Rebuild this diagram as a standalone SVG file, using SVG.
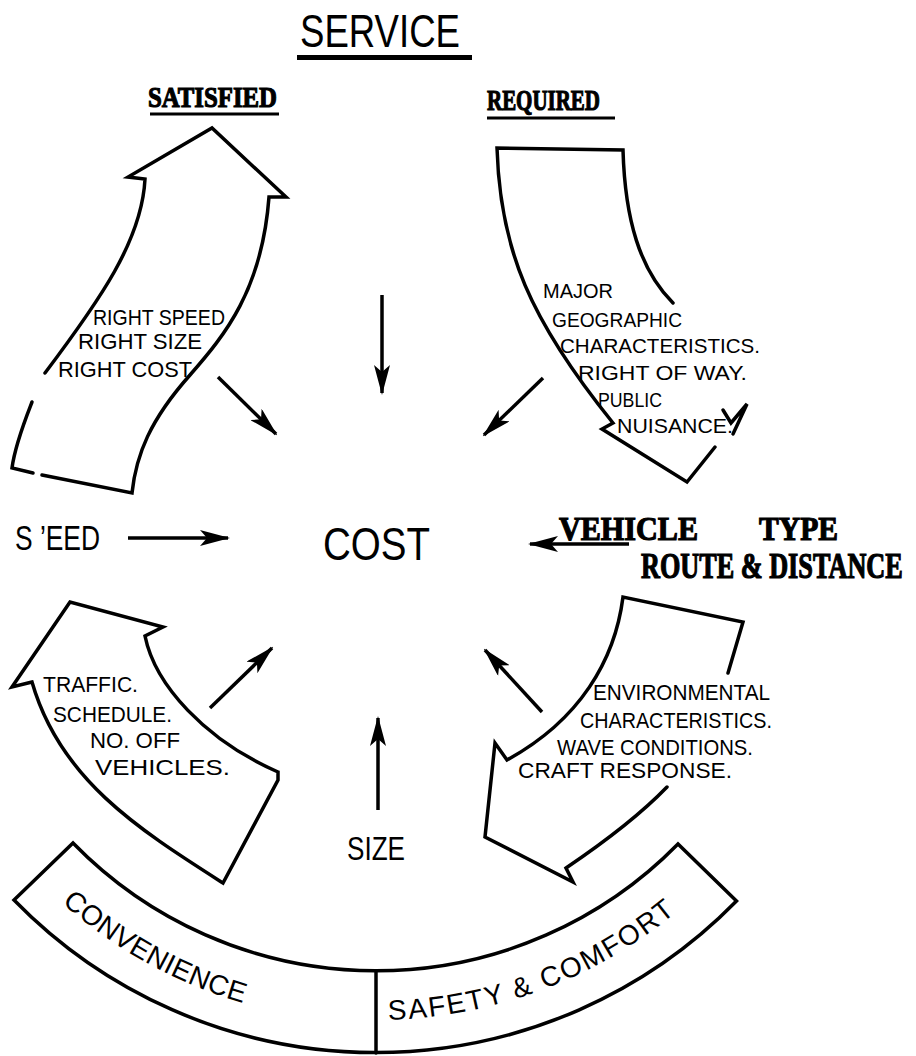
<svg xmlns="http://www.w3.org/2000/svg" width="916" height="1056" viewBox="0 0 916 1056">
<style>
  .shape{fill:none;stroke:#000;stroke-width:3.5;stroke-linejoin:miter;stroke-linecap:round}
  .conn{fill:none;stroke:#000;stroke-width:3.5;stroke-linecap:butt}
  .sans{font-family:"Liberation Sans",Arial,sans-serif;fill:#000}
  .big{font-size:47px}
  .lbl{font-size:22px}
  .sm{font-size:21px}
  .bold{font-family:"Liberation Serif","Times New Roman",serif;font-weight:bold;fill:#000;stroke:#000;stroke-width:1.2}
  .band{font-family:"Liberation Sans",Arial,sans-serif;font-size:28px;fill:#000}
</style>
<defs>
  <marker id="ah" viewBox="0 0 30 16" refX="28" refY="8" markerWidth="30" markerHeight="16" markerUnits="userSpaceOnUse" orient="auto">
    <path d="M0,0 L30,8 L0,16 L7,8 Z" fill="#000"/>
  </marker>
  <path id="pConv" d="M61.9,903 A474,474 0 0 0 334.7,1020.2"/>
  <path id="pSafe" d="M388.4,1019.8 A472,472 0 0 0 737.6,851.4"/>
</defs>
<rect width="916" height="1056" fill="#fff"/>

<g id="title-service">
  <text class="sans big" x="300" y="47" textLength="160" lengthAdjust="spacingAndGlyphs">SERVICE</text>
  <rect x="297" y="55" width="175" height="5" fill="#000"/>
</g>

<g id="label-satisfied">
  <text class="bold" x="148" y="107" font-size="30" textLength="129" lengthAdjust="spacingAndGlyphs">SATISFIED</text>
  <rect x="150" y="112.5" width="129" height="3" fill="#000"/>
</g>

<g id="label-required">
  <text class="bold" x="487" y="110" font-size="30" textLength="113" lengthAdjust="spacingAndGlyphs">REQUIRED</text>
  <rect x="487" y="116.5" width="128" height="3" fill="#000"/>
</g>

<g id="node-satisfied-arrow">
  <path class="shape" d="M45,373 C100,300 142,240 145,179 L128,177 L212,128 L286,197 L269,197 C262,290 225,335 190,375 C150,420 136,455 132,493 L42,475"/>
  <path class="shape" d="M33,473 L12,468 C15,445 25,420 32,402"/>
  <text class="sans lbl" x="93" y="325" textLength="132" lengthAdjust="spacingAndGlyphs">RIGHT SPEED</text>
  <text class="sans lbl" x="78" y="349" textLength="124" lengthAdjust="spacingAndGlyphs">RIGHT SIZE</text>
  <text class="sans lbl" x="58" y="377" textLength="134" lengthAdjust="spacingAndGlyphs">RIGHT COST</text>
</g>

<g id="node-required-arrow">
  <path class="shape" d="M673,303 C640,270 625,220 623,150 L497,148 C500,250 530,320 613,423 L602,429 L687,482 L715,447"/>
  <path class="shape" d="M723,410 L731,423 L747,404 L733,434"/>
  <text class="sans sm" x="543" y="298" textLength="70" lengthAdjust="spacingAndGlyphs">MAJOR</text>
  <text class="sans sm" x="552" y="327" textLength="130" lengthAdjust="spacingAndGlyphs">GEOGRAPHIC</text>
  <text class="sans sm" x="560" y="353" textLength="200" lengthAdjust="spacingAndGlyphs">CHARACTERISTICS.</text>
  <text class="sans sm" x="578" y="380" textLength="169" lengthAdjust="spacingAndGlyphs">RIGHT OF WAY.</text>
  <text class="sans sm" x="598" y="407" textLength="64" lengthAdjust="spacingAndGlyphs">PUBLIC</text>
  <text class="sans sm" x="617" y="433" textLength="116" lengthAdjust="spacingAndGlyphs">NUISANCE.</text>
</g>

<g id="node-speed">
  <text class="sans" font-size="35" x="15" y="550" textLength="85" lengthAdjust="spacingAndGlyphs">S ’EED</text>
</g>

<g id="node-cost">
  <text class="sans big" x="323" y="560" textLength="107" lengthAdjust="spacingAndGlyphs">COST</text>
</g>

<g id="node-vehicle">
  <text class="bold" x="559" y="540" font-size="34" textLength="139" lengthAdjust="spacingAndGlyphs">VEHICLE</text>
  <text class="bold" x="759" y="540" font-size="34" textLength="79" lengthAdjust="spacingAndGlyphs">TYPE</text>
  <text class="bold" transform="translate(641,578) scale(0.75,1)" x="0" y="0" font-size="35" textLength="349" lengthAdjust="spacingAndGlyphs">ROUTE &amp; DISTANCE</text>
</g>

<g id="node-traffic-arrow">
  <path class="shape" d="M32,682 L12,687 L70,602 L163,627 L145,636 C155,685 205,740 278,772 L278,780 L223,883 C140,830 60,780 32,682 Z"/>
  <text class="sans lbl" x="43" y="692" textLength="95" lengthAdjust="spacingAndGlyphs">TRAFFIC.</text>
  <text class="sans lbl" x="53" y="722" textLength="119" lengthAdjust="spacingAndGlyphs">SCHEDULE.</text>
  <text class="sans lbl" x="90" y="748" textLength="90" lengthAdjust="spacingAndGlyphs">NO. OFF</text>
  <text class="sans lbl" x="95" y="775" textLength="135" lengthAdjust="spacingAndGlyphs">VEHICLES.</text>
</g>

<g id="node-environment-arrow">
  <path class="shape" d="M728,673 L743,622 L623,597 C615,660 580,720 507,760 L495,743 L485,837 L573,882 L566,868 C600,845 640,815 667,787"/>
  <text class="sans lbl" x="593" y="700" textLength="177" lengthAdjust="spacingAndGlyphs">ENVIRONMENTAL</text>
  <text class="sans lbl" x="580" y="728" textLength="192" lengthAdjust="spacingAndGlyphs">CHARACTERISTICS.</text>
  <text class="sans lbl" x="557" y="755" textLength="196" lengthAdjust="spacingAndGlyphs">WAVE CONDITIONS.</text>
  <text class="sans lbl" x="518" y="778" textLength="214" lengthAdjust="spacingAndGlyphs">CRAFT RESPONSE.</text>
</g>

<g id="node-size">
  <text class="sans" font-size="34" x="347" y="860" textLength="58" lengthAdjust="spacingAndGlyphs">SIZE</text>
</g>

<g id="node-band">
  <path class="shape" d="M73,843 A423,423 0 0 0 678,844 L736.5,901 A505,505 0 0 1 14,900 Z"/>
  <path class="shape" d="M376,971 L376,1053"/>
  <text class="band" letter-spacing="0.3"><textPath href="#pConv">CONVENIENCE</textPath></text>
  <text class="band" letter-spacing="1.9"><textPath href="#pSafe">SAFETY &amp; COMFORT</textPath></text>
</g>

<g id="connectors">
  <line class="conn" x1="218" y1="377" x2="276" y2="434" marker-end="url(#ah)"/>
  <line class="conn" x1="382" y1="295" x2="382" y2="393" marker-end="url(#ah)"/>
  <line class="conn" x1="543" y1="378" x2="484" y2="435" marker-end="url(#ah)"/>
  <line class="conn" x1="128" y1="538" x2="228" y2="538" marker-end="url(#ah)"/>
  <line class="conn" x1="629" y1="544" x2="530" y2="544" marker-end="url(#ah)"/>
  <line class="conn" x1="210" y1="708" x2="272" y2="648" marker-end="url(#ah)"/>
  <line class="conn" x1="378" y1="810" x2="378" y2="718" marker-end="url(#ah)"/>
  <line class="conn" x1="542" y1="712" x2="485" y2="650" marker-end="url(#ah)"/>
</g>
</svg>
